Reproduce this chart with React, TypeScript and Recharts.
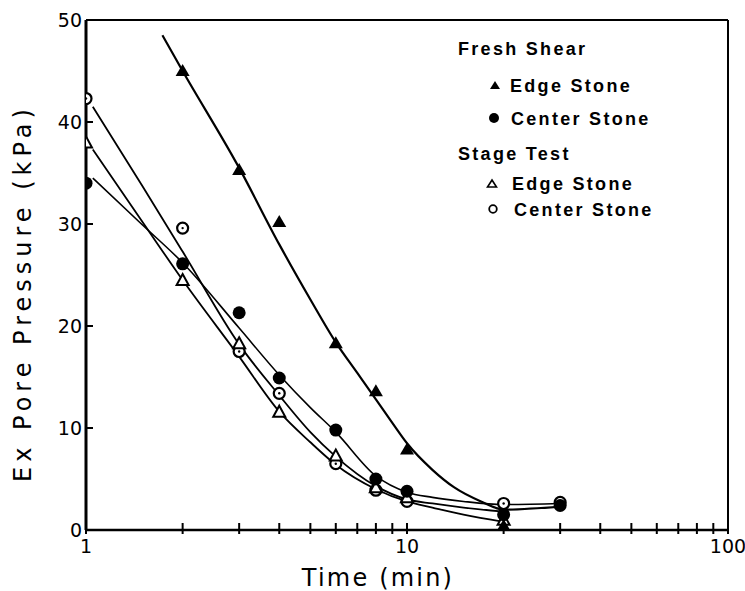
import { ComposedChart, Line, Scatter, XAxis, YAxis, ReferenceLine } from 'recharts';

// measured points (time in min, excess pore pressure in kPa)
const freshEdgeT = [2, 3, 4, 6, 8, 10, 20];
const freshEdgeP = [45, 35.3, 30.2, 18.3, 13.6, 7.9, 0.4];
const freshCenterT = [1, 2, 3, 4, 6, 8, 10, 20, 30];
const freshCenterP = [34, 26.1, 21.3, 14.9, 9.8, 5.0, 3.8, 1.5, 2.4];
const stageEdgeT = [1, 2, 3, 4, 6, 8, 10, 20];
const stageEdgeP = [38, 24.5, 18.3, 11.6, 7.3, 4.2, 3.2, 1.0];
const stageCenterT = [1, 2, 3, 4, 6, 8, 10, 20, 30];
const stageCenterP = [42.3, 29.6, 17.5, 13.4, 6.5, 3.9, 2.8, 2.6, 2.7];

// fitted curves
const freshEdgeFitT = [1.73, 2, 3, 4, 5, 6, 7, 8, 9, 10, 12, 14, 17, 20, 30];
const freshEdgeFitP = [48.5, 45, 35.5, 28, 22.6, 18.4, 15.4, 12.8, 10.5, 8.5, 5.9, 4.2, 2.8, 2.0, 2.3];
const freshCenterFitT = [1.05, 1.5, 2, 3, 4, 5, 6, 8, 10, 12, 15, 20, 30];
const freshCenterFitP = [34.5, 29.9, 26.2, 19.8, 15.2, 12.0, 9.6, 5.3, 3.7, 3.2, 2.8, 2.5, 2.6];
const stageEdgeFitT = [1.05, 1.5, 2, 3, 4, 5, 6, 8, 10, 12, 15, 20];
const stageEdgeFitP = [37.3, 30.2, 24.5, 17, 11.6, 8.6, 6.4, 4.0, 2.8, 2.2, 1.5, 0.8];
const stageCenterFitT = [1.05, 1.5, 2, 3, 4, 5, 6, 8, 10, 12, 15, 20];
const stageCenterFitP = [41.5, 33.7, 27.3, 18.2, 13.2, 9.6, 7.2, 4.3, 3.0, 2.6, 2.2, 1.8];

const xTicks = [1, 2, 3, 4, 5, 6, 7, 8, 9, 10, 20, 30, 40, 50, 60, 70, 80, 90, 100];
const xLabels = [1, 10, 100];
const yTicks = [0, 10, 20, 30, 40, 50];

const zip = (t: number[], p: number[]) => t.map((v, i) => ({ t: v, p: p[i] }));

const AXIS_FONT = '"DejaVu Sans", sans-serif';

const FilledTri = (props: any) => {
  const { cx, cy } = props;
  return <path d={`M${cx},${cy - 7} L${cx + 7},${cy + 5} L${cx - 7},${cy + 5} Z`} fill="#000" />;
};
const OpenTri = (props: any) => {
  const { cx, cy } = props;
  return <path d={`M${cx},${cy - 6} L${cx + 6},${cy + 5} L${cx - 6},${cy + 5} Z`} fill="#fff" stroke="#000" strokeWidth={2} />;
};
const FilledDot = (props: any) => {
  const { cx, cy } = props;
  return <circle cx={cx} cy={cy} r={6.5} fill="#000" />;
};
const OpenDot = (props: any) => {
  const { cx, cy } = props;
  return (
    <g>
      <circle cx={cx} cy={cy} r={5.5} fill="#fff" stroke="#000" strokeWidth={2.2} />
      <circle cx={cx} cy={cy} r={1.2} fill="#000" />
    </g>
  );
};

const XTick = ({ x, y, payload }: any) => {
  const major = xLabels.includes(payload.value);
  return (
    <g>
      <line x1={x} x2={x} y1={y - 7} y2={y + 4} stroke="#000" strokeWidth={2} />
      {major && (
        <text x={x} y={y + 23} textAnchor="middle" fontSize={19} fontFamily={AXIS_FONT} fill="#000">
          {payload.value}
        </text>
      )}
    </g>
  );
};

const YTick = ({ x, y, payload }: any) => (
  <g>
    <line x1={x} x2={x + 7} y1={y} y2={y} stroke="#000" strokeWidth={2} />
    <text x={x - 4} y={y + 7} textAnchor="end" fontSize={19} fontFamily={AXIS_FONT} fill="#000">
      {payload.value}
    </text>
  </g>
);

const LEG_FONT = '"Liberation Sans", Arial, sans-serif';

export default function App() {
  return (
    <div style={{ position: 'absolute', left: 0, top: 0, width: 745, height: 591, background: '#fff' }}>
      <ComposedChart width={745} height={591} margin={{ top: 20, right: 17, bottom: 0, left: 26 }}>
        <XAxis
          dataKey="t"
          type="number"
          scale="log"
          domain={[1, 100]}
          ticks={xTicks}
          interval={0}
          allowDataOverflow
          tickSize={0}
          tickMargin={0}
          tick={<XTick />}
          height={61}
          axisLine={{ stroke: '#000', strokeWidth: 2.5 }}
        />
        <YAxis
          type="number"
          domain={[0, 50]}
          ticks={yTicks}
          interval={0}
          tickSize={0}
          tickMargin={0}
          tick={<YTick />}
          width={60}
          axisLine={{ stroke: '#000', strokeWidth: 3 }}
        />
        <ReferenceLine y={50} stroke="#000" strokeWidth={2} />
        <ReferenceLine x={100} stroke="#000" strokeWidth={2} />

        <Line data={zip(freshEdgeFitT, freshEdgeFitP)} dataKey="p" type="monotone" dot={false} stroke="#000" strokeWidth={2.2} isAnimationActive={false} />
        <Line data={zip(freshCenterFitT, freshCenterFitP)} dataKey="p" type="monotone" dot={false} stroke="#000" strokeWidth={1.6} isAnimationActive={false} />
        <Line data={zip(stageEdgeFitT, stageEdgeFitP)} dataKey="p" type="monotone" dot={false} stroke="#000" strokeWidth={1.8} isAnimationActive={false} />
        <Line data={zip(stageCenterFitT, stageCenterFitP)} dataKey="p" type="monotone" dot={false} stroke="#000" strokeWidth={1.8} isAnimationActive={false} />

        <Scatter data={zip(stageCenterT, stageCenterP)} dataKey="p" shape={<OpenDot />} isAnimationActive={false} />
        <Scatter data={zip(stageEdgeT, stageEdgeP)} dataKey="p" shape={<OpenTri />} isAnimationActive={false} />
        <Scatter data={zip(freshCenterT, freshCenterP)} dataKey="p" shape={<FilledDot />} isAnimationActive={false} />
        <Scatter data={zip(freshEdgeT, freshEdgeP)} dataKey="p" shape={<FilledTri />} isAnimationActive={false} />
      </ComposedChart>

      <svg width={745} height={591} style={{ position: 'absolute', left: 0, top: 0, pointerEvents: 'none' }}>
        <text x={378} y={586} textAnchor="middle" fontSize={24} fontFamily={AXIS_FONT} letterSpacing={2.2} fill="#000">
          Time (min)
        </text>
        <text
          transform="translate(31,293) rotate(-90)"
          textAnchor="middle"
          fontSize={24}
          fontFamily={AXIS_FONT}
          letterSpacing={5}
          fill="#000"
        >
          Ex Pore Pressure (kPa)
        </text>

        <g fontFamily={LEG_FONT} fontWeight="bold" fontSize={18} letterSpacing={2.3} fill="#000">
          <text x={458} y={55}>Fresh Shear</text>
          <path d="M495,81 L500,89 L490,89 Z" fill="#000" />
          <text x={510} y={92}>Edge Stone</text>
          <circle cx={494} cy={118} r={5} fill="#000" />
          <text x={511} y={125}>Center Stone</text>
          <text x={458} y={160}>Stage Test</text>
          <path d="M492,180 L496.5,187 L487.5,187 Z" fill="#fff" stroke="#000" strokeWidth={1.6} />
          <text x={512} y={190}>Edge Stone</text>
          <circle cx={493} cy={209} r={3.8} fill="#fff" stroke="#000" strokeWidth={1.8} />
          <text x={514} y={216}>Center Stone</text>
        </g>
      </svg>
    </div>
  );
}
